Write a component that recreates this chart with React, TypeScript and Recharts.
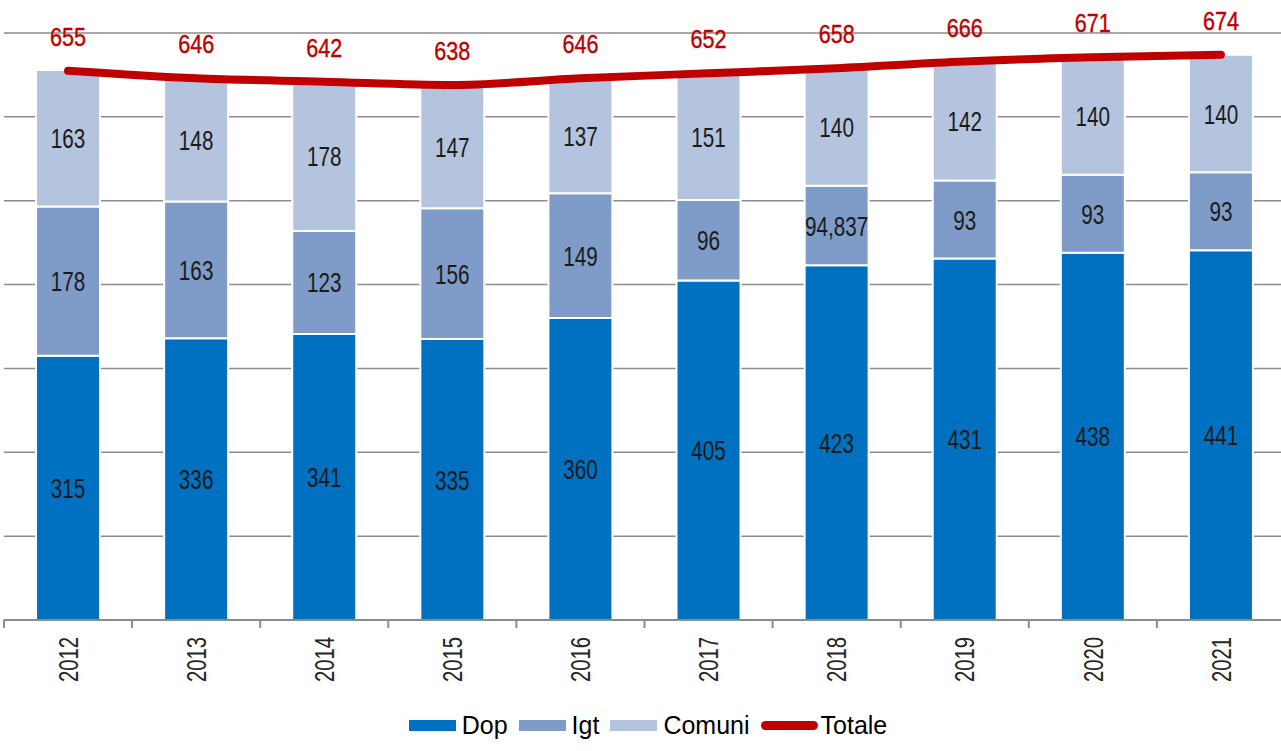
import React from "react";
import {
  ComposedChart,
  Bar,
  Line,
  XAxis,
  YAxis,
  CartesianGrid,
  Legend,
  LabelList,
} from "recharts";

const years = ["2012", "2013", "2014", "2015", "2016", "2017", "2018", "2019", "2020", "2021"];
const dop = [315, 336, 341, 335, 360, 405, 423, 431, 438, 441];
const igt = [178, 163, 123, 156, 149, 96, 94.837, 93, 93, 93];
const comuni = [163, 148, 178, 147, 137, 151, 140, 142, 140, 140];
const totale = [655, 646, 642, 638, 646, 652, 658, 666, 671, 674];
const yTicks = [0, 100, 200, 300, 400, 500, 600, 700];

const data = years.map((y, i) => ({
  year: y,
  Dop: dop[i],
  Igt: igt[i],
  Comuni: comuni[i],
  Totale: totale[i],
}));

const CHART_W = 1290;
const MARGIN = { top: 33, right: 5, left: 4, bottom: 0 };
const BAND = (CHART_W - MARGIN.left - MARGIN.right) / years.length;

const FONT = "'Liberation Sans', Arial, sans-serif";
const COLORS = { Dop: "#0070C0", Igt: "#7F9CC8", Comuni: "#B4C4DF", Totale: "#C00000" };
const AXIS_COLOR = "#8C8C8C";
const legendItems = [
  { name: "Dop", type: "bar" },
  { name: "Igt", type: "bar" },
  { name: "Comuni", type: "bar" },
  { name: "Totale", type: "line" },
];

const fmt = (v: any) => String(v).replace(".", ",");

const BarLabel = (props: any) => {
  const { x, y, width, height, value } = props;
  const cx = Number(x) + Number(width) / 2;
  const cy = Number(y) + Number(height) / 2;
  const fs = 28;
  return (
    <text
      transform={`translate(${cx},${cy + fs * 0.358}) scale(0.74,1)`}
      textAnchor="middle"
      fontFamily={FONT}
      fontSize={fs}
      fill="#1a1a1a"
    >
      {fmt(value)}
    </text>
  );
};

const TotalLabel = (props: any) => {
  const { x, y, value } = props;
  return (
    <text
      transform={`translate(${x},${Number(y) - 25}) scale(0.83,1)`}
      textAnchor="middle"
      fontFamily={FONT}
      fontSize={26}
      fill="#C00000"
      stroke="#C00000"
      strokeWidth={0.4}
    >
      {value}
    </text>
  );
};

const YearTick = (props: any) => {
  const { x, y, payload, index } = props;
  const fs = 27;
  const xl = Number(x) - BAND / 2;
  const xr = Number(x) + BAND / 2;
  const top = Number(y) - 8;
  return (
    <g>
      <line x1={xl} x2={xl} y1={top} y2={top + 8} stroke={AXIS_COLOR} strokeWidth={2} />
      {index === years.length - 1 && (
        <line x1={xr} x2={xr} y1={top} y2={top + 8} stroke={AXIS_COLOR} strokeWidth={2} />
      )}
      <text
        transform={`translate(${Number(x) + fs * 0.358},${Number(y) + 9}) rotate(-90) scale(0.75,1)`}
        textAnchor="end"
        fontFamily={FONT}
        fontSize={fs}
        fill="#262626"
      >
        {payload.value}
      </text>
    </g>
  );
};

const LegendContent = () => (
  <div
    style={{
      height: 51,
      display: "flex",
      justifyContent: "center",
      alignItems: "center",
      fontFamily: FONT,
      fontSize: 25,
      color: "#000",
      paddingLeft: 18,
    }}
  >
    {legendItems.map((it) => (
      <div key={it.name} style={{ display: "flex", alignItems: "center", marginRight: 11 }}>
        {it.type === "bar" ? (
          <div style={{ width: 47, height: 11, background: (COLORS as any)[it.name], marginRight: 6 }} />
        ) : (
          <div style={{ width: 57, height: 9, borderRadius: 5, background: COLORS.Totale, marginRight: 3 }} />
        )}
        <span>{it.name}</span>
      </div>
    ))}
  </div>
);

export default function App() {
  return (
    <div style={{ position: "absolute", left: 0, top: 0, width: 1281, height: 751, overflow: "hidden", background: "#fff" }}>
      <ComposedChart
        width={CHART_W}
        height={751}
        data={data}
        margin={MARGIN}
        barCategoryGap="25%"
      >
        <CartesianGrid vertical={false} stroke={AXIS_COLOR} strokeWidth={1.5} />
        <XAxis
          dataKey="year"
          axisLine={{ stroke: AXIS_COLOR, strokeWidth: 2 }}
          tickLine={false}
          tick={<YearTick />}
          height={80}
          interval={0}
        />
        <YAxis hide domain={[0, 700]} ticks={yTicks} />
        <Legend verticalAlign="bottom" content={<LegendContent />} />
        <Bar dataKey="Dop" stackId="a" fill={COLORS.Dop} stroke="#fff" strokeWidth={2} isAnimationActive={false}>
          <LabelList dataKey="Dop" content={<BarLabel />} />
        </Bar>
        <Bar dataKey="Igt" stackId="a" fill={COLORS.Igt} stroke="#fff" strokeWidth={2} isAnimationActive={false}>
          <LabelList dataKey="Igt" content={<BarLabel />} />
        </Bar>
        <Bar dataKey="Comuni" stackId="a" fill={COLORS.Comuni} stroke="#fff" strokeWidth={2} isAnimationActive={false}>
          <LabelList dataKey="Comuni" content={<BarLabel />} />
        </Bar>
        <Line
          dataKey="Totale"
          type="monotone"
          stroke={COLORS.Totale}
          strokeWidth={8}
          strokeLinecap="round"
          dot={false}
          activeDot={false}
          isAnimationActive={false}
        >
          <LabelList dataKey="Totale" content={<TotalLabel />} />
        </Line>
      </ComposedChart>
    </div>
  );
}
